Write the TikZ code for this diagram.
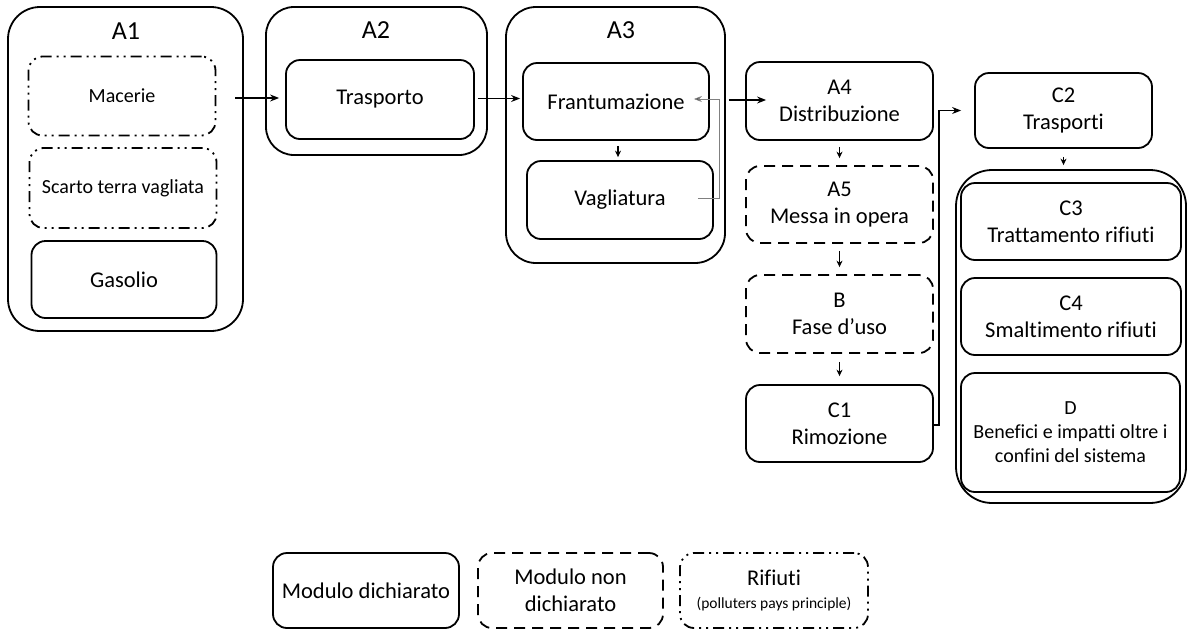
\documentclass[tikz,border=0pt]{standalone}
\usepackage{fontspec}
\setmainfont{Carlito}[Ligatures={NoCommon,NoContextual}]
\usetikzlibrary{arrows.meta}
\newcommand\mfont{\fontsize{22.5}{27}\selectfont}
\newcommand\sfont{\fontsize{20}{24}\selectfont}
\newcommand\hfont{\fontsize{26}{30}\selectfont}
\newcommand\tfont{\fontsize{15.5}{18}\selectfont}
\begin{document}
\begin{tikzpicture}[x=1pt,y=-1pt,
  box/.style={draw, line width=1.8pt, rounded corners=14pt, align=center, inner sep=0pt, font=\mfont},
  outer/.style={draw, line width=1.8pt, inner sep=0pt},
  nondecl/.style={box, dash pattern=on 11pt off 7pt},
  waste/.style={box, dash pattern=on 11pt off 5pt on 2pt off 5pt on 2pt off 5pt},
  hdr/.style={font=\hfont, inner sep=0pt},
  arr/.style={line width=1.3pt, -{Stealth[length=9pt,width=7pt]}},
  sarr/.style={line width=1.4pt, -{Stealth[length=6.5pt,width=6pt]}},
  garr/.style={line width=0.9pt, draw=black!50, -{Stealth[length=8pt,width=6pt,fill=black]}}
]
\useasboundingbox (0,0) rectangle (1188,630);

% outer groups
\node[outer, rounded corners=32pt, minimum width=235pt, minimum height=324pt] (a1) at (125.5,169) {};
\node[outer, rounded corners=28pt, minimum width=221pt, minimum height=148pt] (a2) at (376.5,81) {};
\node[outer, rounded corners=30pt, minimum width=219pt, minimum height=256pt] (a3) at (615.5,135) {};
\node[outer, rounded corners=36pt, minimum width=230pt, minimum height=333pt] (cg) at (1071,336.5) {};

\node[hdr] (a1l) at (126,31) {A1};
\node[hdr] (a2l) at (376,30) {A2};
\node[hdr] (a3l) at (621,30) {A3};

% A1 content
\node[waste, font=\sfont, minimum width=187pt, minimum height=79pt] (mac) at (122,96) {Macerie};
\node[waste, font=\sfont, minimum width=187pt, minimum height=80pt] (sca) at (123,188) {Scarto terra vagliata};
\node[box, minimum width=185pt, minimum height=77pt] (gas) at (124,279.5) {Gasolio};

% A2, A3
\node[box, minimum width=188pt, minimum height=79pt] (tra) at (380,99.5) {Trasporto};
\node[box, minimum width=186pt, minimum height=77pt] (fra) at (616,101.5) {Frantumazione};
\node[box, minimum width=186pt, minimum height=78pt] (vag) at (620,200) {Vagliatura};

% A4 .. C1
\node[box, minimum width=187pt, minimum height=78pt] (a4) at (839.5,101) {A4\\Distribuzione};
\node[nondecl, minimum width=187pt, minimum height=77pt] (a5) at (839.5,204.5) {A5\\Messa in opera};
\node[nondecl, minimum width=187pt, minimum height=78pt] (b) at (839.5,314) {B\\Fase d’uso};
\node[box, minimum width=187pt, minimum height=77pt] (c1) at (839.5,423.5) {C1\\Rimozione};

% C group
\node[box, minimum width=177pt, minimum height=75pt] (c2) at (1063.5,110.5) {C2\\Trasporti};
\node[box, minimum width=220pt, minimum height=77pt] (c3) at (1071,221.5) {C3\\Trattamento rifiuti};
\node[box, minimum width=220pt, minimum height=77pt] (c4) at (1071,316.5) {C4\\Smaltimento rifiuti};
\node[box, font=\sfont, minimum width=219pt, minimum height=119pt] (d) at (1070.5,432.5) {D\\Benefici e impatti oltre i\\confini del sistema};

% legend
\node[box, minimum width=186pt, minimum height=75pt] (l1) at (366,590.5) {Modulo dichiarato};
\node[nondecl, minimum width=185pt, minimum height=75pt] (l2) at (570.5,590.5) {Modulo non\\dichiarato};
\node[waste, minimum width=188pt, minimum height=75pt] (l3) at (774,590.5) {Rifiuti\\[-4pt]{\tfont(polluters pays principle)}};

% connectors
\coordinate (a1o) at (235,98);
\draw[arr] (a1o) -- ([xshift=-6pt]a1o -| tra.west);
\draw[arr] ([xshift=3pt]tra.east |- 0,98.5) -- ([xshift=-2pt]fra.west |- 0,98.5);
\draw[arr] ([xshift=3pt]a3.east |- 0,100) -- ([xshift=21pt]a4.west |- 0,100);
\draw[sarr, shorten <=5pt, shorten >=3pt] ([xshift=2pt]fra.south) -- ([xshift=2pt]fra.south |- vag.north);
\draw[sarr, shorten <=6pt, shorten >=7pt] (a4.south) -- (a5.north);
\draw[sarr, shorten <=7pt, shorten >=7pt] (a5.south) -- (b.north);
\draw[sarr, shorten <=8pt, shorten >=8pt] (b.south) -- (c1.north);
\draw[sarr, shorten <=8pt, shorten >=4pt] (c2.south) -- (c2.south |- cg.north);
\coordinate (k) at (939,0);
\draw[arr, line width=1.1pt] ([yshift=-1.5pt]c1.east) -- ([yshift=-1.5pt]c1.east -| k) -- (k |- c2.west) -- ([xshift=-13pt]c2.west);
\coordinate (g) at (719,0);
\draw[garr] ([xshift=-16pt,yshift=2pt]vag.east) -- ([yshift=2pt]vag.east -| g) -- (g |- 0,99) -- ([xshift=-16pt]fra.east |- 0,99);
\end{tikzpicture}
\end{document}
